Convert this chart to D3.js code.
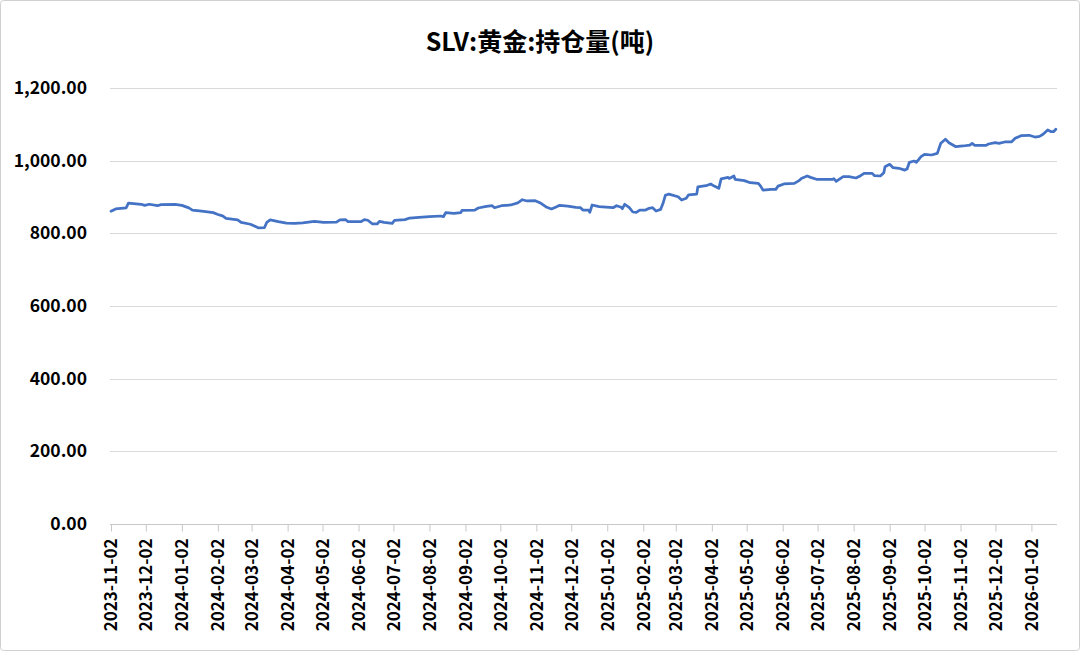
<!DOCTYPE html>
<html>
<head>
<meta charset="utf-8">
<script src="https://cdn.jsdelivr.net/npm/d3@7/dist/d3.min.js"></script>
<style>
  html, body { margin: 0; padding: 0; background: #fff; }
  svg { display: block; font-family: "Noto Sans CJK SC", "Noto Sans", sans-serif; }
</style>
</head>
<body>
<svg id="chart" width="1080" height="651"></svg>
<script>
const title = "SLV:黄金:持仓量(吨)";

const dates = [
"2023-11-02","2023-11-06","2023-11-15","2023-11-17","2023-11-28","2023-12-01","2023-12-05","2023-12-12","2023-12-15","2023-12-27",
"2024-01-02","2024-01-08","2024-01-11","2024-01-19","2024-01-29","2024-02-02","2024-02-06","2024-02-09","2024-02-19","2024-02-22",
"2024-03-01","2024-03-08","2024-03-13","2024-03-15","2024-03-18","2024-03-25","2024-04-01","2024-04-08","2024-04-15","2024-04-25",
"2024-05-03","2024-05-14","2024-05-17","2024-05-22","2024-05-24","2024-06-04","2024-06-07","2024-06-10","2024-06-14","2024-06-18",
"2024-06-20","2024-06-24","2024-07-01","2024-07-03","2024-07-12","2024-07-16","2024-07-24","2024-08-02","2024-08-12","2024-08-14",
"2024-08-16","2024-08-23","2024-08-29","2024-08-30","2024-09-10","2024-09-13","2024-09-20","2024-09-25","2024-09-27","2024-10-03",
"2024-10-11","2024-10-17","2024-10-21","2024-10-25","2024-11-01","2024-11-06","2024-11-11","2024-11-15","2024-11-19","2024-11-22",
"2024-11-29","2024-12-06","2024-12-10","2024-12-12","2024-12-17","2024-12-18","2024-12-20","2024-12-26","2025-01-07","2025-01-10",
"2025-01-14","2025-01-15","2025-01-17","2025-01-21","2025-01-24","2025-01-27","2025-01-30","2025-02-04","2025-02-07","2025-02-10",
"2025-02-13","2025-02-17","2025-02-19","2025-02-21","2025-02-24","2025-03-04","2025-03-07","2025-03-11","2025-03-13","2025-03-20",
"2025-03-21","2025-03-28","2025-04-01","2025-04-04","2025-04-08","2025-04-10","2025-04-16","2025-04-17","2025-04-21","2025-04-22",
"2025-04-30","2025-05-05","2025-05-12","2025-05-14","2025-05-16","2025-05-23","2025-05-27","2025-05-29","2025-06-03","2025-06-12",
"2025-06-16","2025-06-18","2025-06-23","2025-06-26","2025-07-01","2025-07-15","2025-07-16","2025-07-18","2025-07-24","2025-07-29",
"2025-08-04","2025-08-08","2025-08-11","2025-08-18","2025-08-20","2025-08-25","2025-08-28","2025-08-29","2025-09-02","2025-09-05",
"2025-09-10","2025-09-15","2025-09-17","2025-09-19","2025-09-23","2025-09-25","2025-09-29","2025-10-02","2025-10-08","2025-10-13",
"2025-10-16","2025-10-20","2025-10-23","2025-10-29","2025-11-04","2025-11-10","2025-11-12","2025-11-14","2025-11-24","2025-11-26",
"2025-12-02","2025-12-05","2025-12-10","2025-12-16","2025-12-19","2025-12-24","2025-12-31","2026-01-05","2026-01-09","2026-01-12",
"2026-01-16","2026-01-19","2026-01-21","2026-01-23"
];

const holdings = [
861,867,870,883,880,877,880,876,879,880,
877,870,864,861,857,852,848,841,837,830,
825,815,815.5,830,837,832,828,827.6,829,833,
830,831,837,837.6,832,832,837.6,836,825.7,825.7,
833,830,827.6,836,837.6,842,844,845.8,847.7,845.8,
856.8,855,856.8,863,864,869.7,874.4,876,870.5,876,
878,884,892.5,889,890,882.6,871.6,867,872.5,877,
875,871.6,870.5,864,864,857.8,878,873.4,870.5,876,
871.6,867.8,880,870.5,858.7,857.8,864,864,868.9,870.5,
861.5,866,882.6,904.6,908,900.8,891.7,896.4,906,908,
928,931,935.8,930,923.9,950,954,951,957.8,948.7,
945,939.3,937.6,930,919,921,921,930,935.8,937.6,
945,951,957.8,954,948.7,948.7,950.4,943.2,956,956,
952.3,958.7,965,965,958.7,957.8,967,983.4,990,980.7,
979,974,977,995.5,999,995.5,1011,1017.5,1015.6,1020,
1047.8,1058.8,1049.4,1038.4,1040.4,1043,1047.8,1042.2,1042.2,1045.9,
1049.4,1047.8,1051.4,1052,1061.5,1068.7,1069.8,1065,1067,1072.6,
1084.4,1079.8,1079.8,1086.3
];

const xTickLabels = [
"2023-11-02","2023-12-02","2024-01-02","2024-02-02","2024-03-02","2024-04-02","2024-05-02","2024-06-02","2024-07-02",
"2024-08-02","2024-09-02","2024-10-02","2024-11-02","2024-12-02","2025-01-02","2025-02-02","2025-03-02","2025-04-02",
"2025-05-02","2025-06-02","2025-07-02","2025-08-02","2025-09-02","2025-10-02","2025-11-02","2025-12-02","2026-01-02"
];
const yTicks = [0, 200, 400, 600, 800, 1000, 1200];
const xDomain = ["2023-11-02", "2026-01-24"];

const parse = d3.utcParse("%Y-%m-%d");
const data = dates.map((d, i) => ({ date: parse(d), value: holdings[i] }));

const svg = d3.select("#chart");
const W = 1080, H = 651;
const mLeft = 111, mRight = 1057, mTop = 88, mBottom = 524;

// outer border
svg.append("rect")
  .attr("x", 0.5).attr("y", 0.5)
  .attr("width", W - 1).attr("height", H - 1)
  .attr("rx", 3)
  .attr("fill", "#fff")
  .attr("stroke", "#d0d0d0");

const x = d3.scaleUtc().domain(xDomain.map(parse)).range([mLeft, mRight]);
const y = d3.scaleLinear().domain([0, 1200]).range([mBottom, mTop]);

// gridlines
svg.append("g")
  .selectAll("line")
  .data(yTicks.filter(t => t > 0))
  .join("line")
  .attr("x1", mLeft - 1).attr("x2", mRight)
  .attr("y1", d => Math.round(y(d)) + 0.5).attr("y2", d => Math.round(y(d)) + 0.5)
  .attr("stroke", "#d9d9d9").attr("stroke-width", 1);

// y axis labels
const yAxis = d3.axisLeft(y).tickValues(yTicks).tickFormat(d3.format(",.2f")).tickSize(0).tickPadding(0);
const yg = svg.append("g").attr("transform", `translate(87,0)`).call(yAxis);
yg.select(".domain").remove();
yg.selectAll("text")
  .attr("fill", "#000")
  .attr("font-size", "17.5px")
  .attr("font-weight", "bold")
  .attr("font-family", '"Noto Sans CJK SC", "Noto Sans", sans-serif');

// x axis
const xAxis = d3.axisBottom(x).tickValues(xTickLabels.map(parse)).tickFormat(d3.utcFormat("%Y-%m-%d")).tickSize(7).tickSizeOuter(0);
const xg = svg.append("g").attr("transform", `translate(0,${mBottom + 0.5})`).call(xAxis);
xg.select(".domain").attr("stroke", "#c8c8c8").attr("d", `M${mLeft - 1},0H${mRight}`);
xg.selectAll(".tick line").attr("stroke", "#c8c8c8");
xg.selectAll("text")
  .attr("fill", "#000")
  .attr("font-size", "17px")
  .attr("font-weight", "bold")
  .attr("font-family", '"Noto Sans CJK SC", "Noto Sans", sans-serif')
  .attr("text-anchor", "end")
  .attr("dy", "0.35em")
  .attr("transform", "rotate(-90)")
  .attr("x", -14)
  .attr("y", 0);

// line
const line = d3.line().x(d => x(d.date)).y(d => y(d.value));
svg.append("path")
  .datum(data)
  .attr("fill", "none")
  .attr("stroke", "#4472c4")
  .attr("stroke-width", 2.75)
  .attr("stroke-linejoin", "round")
  .attr("stroke-linecap", "round")
  .attr("d", line);

// title
svg.append("text")
  .attr("x", 540).attr("y", 51)
  .attr("text-anchor", "middle")
  .attr("font-size", "25px")
  .attr("font-weight", "bold")
  .attr("fill", "#000")
  .text(title);
</script>
</body>
</html>
